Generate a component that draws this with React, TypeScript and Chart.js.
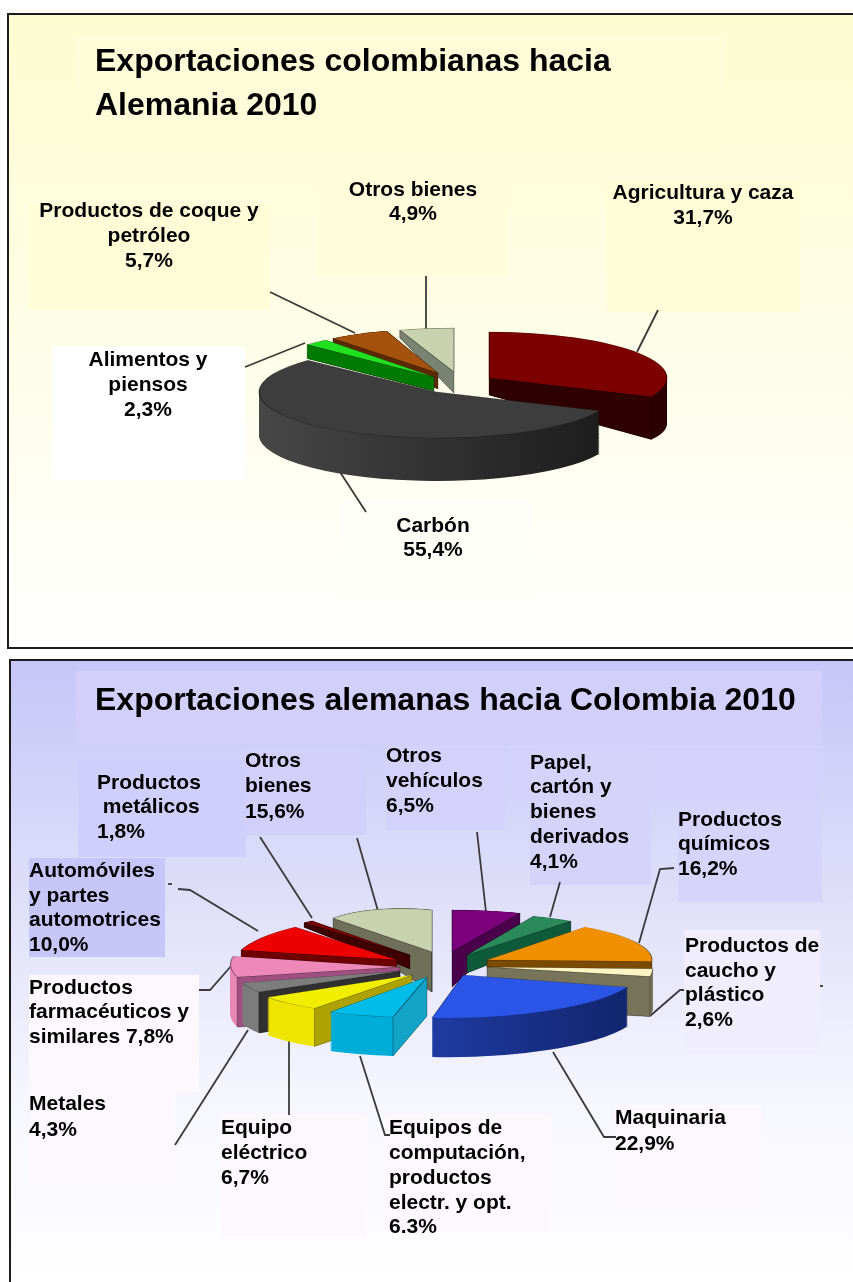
import React, { useEffect, useRef } from "react";
import { Chart, registerables } from "chart.js";
Chart.register(...registerables);

// ---------- data ----------
const topCategories = ["Agricultura y caza", "Carbón", "Alimentos y piensos", "Productos de coque y petróleo", "Otros bienes"];
const topValues = [31.7, 55.4, 2.3, 5.7, 4.9];
const topTitleLines = ["Exportaciones colombianas hacia", "Alemania 2010"];
const bottomCategories = ["Otros vehículos", "Papel, cartón y bienes derivados", "Productos químicos", "Productos de caucho y plástico", "Maquinaria", "Equipos de computación, productos electr. y opt.", "Equipo eléctrico", "Metales", "Productos farmacéuticos y similares", "Automóviles y partes automotrices", "Productos metálicos", "Otros bienes"];
const bottomValues = [6.5, 4.1, 16.2, 2.6, 22.9, 6.3, 6.7, 4.3, 7.8, 10.0, 1.8, 15.6];
const bottomTitleLines = ["Exportaciones alemanas hacia Colombia 2010"];

// ---------- styles: how each slice is exploded / tilted / extruded ----------
type Pose = { ax: number; ay: number; a: number; k: number; s: number; b: number; d0: number; ds: number; dy: number; top: string; wall: string; rim: [string, string] };
const p = (ax: number, ay: number, a: number, k: number, s: number, b: number, d0: number, ds: number, dy: number, top: string, wall: string, rimL: string, rimR: string): Pose => ({ ax, ay, a, k, s, b, d0, ds, dy, top, wall, rim: [rimL, rimR] });

const topPoses: Pose[] = [
  p(489, 378, 178, 0, 0, 46, 17, 0.158, 0, "#7c0000", "#2e0000", "#3a0000", "#2a0000"),
  p(437, 392, 178, 0, 0, 46, 43, 0, 0, "#3d3d3d", "#222222", "#474747", "#1b1b1b"),
  p(434, 377, 175, 0, 0, 47, 14, 0, 0, "#20e020", "#007a00", "#006a00", "#006a00"),
  p(438, 373, 170, 0, 0, 44, 16, 0, 0.34, "#a5520f", "#5a2a05", "#5a2a05", "#5a2a05"),
  p(454, 372, 179, 0, 0, 44, 21, 0, 0.32, "#c8d2ae", "#7a8272", "#7a8272", "#7a8272"),
];
const bottomPoses: Pose[] = [
  p(452, 952, 179, 0, 0, 42, 35, 0, 0.6, "#7c007c", "#4a004a", "#4a004a", "#4a004a"),
  p(467, 955, 175, 0, 0, 42, 18, 0, 0.2, "#2a8a5a", "#0f5a3a", "#0f5a3a", "#0f5a3a"),
  p(487, 960, 165, 0, 0, 41, 8, 0, 0, "#f09000", "#7a4a00", "#7a4a00", "#7a4a00"),
  p(487, 967, 166, 0, 0, 50, 40, 0, 0, "#fdf6c4", "#77745a", "#77745a", "#77745a"),
  p(463, 975, 174, -32, 4, 43, 39, 0, 0, "#2b55e6", "#13256e", "#2a52d8", "#13256e"),
  p(427, 977, 177, -35, 6, 40, 39, 0, 0, "#00bce8", "#12a3c6", "#00acd8", "#00acd8"),
  p(412, 975, 166, -40, 8, 39, 38, 0, 0, "#f2ee00", "#aea200", "#eee600", "#eee600"),
  p(400, 971, 159, -42, 9, 38, 41, 0, 0, "#7d7d7d", "#303030", "#7c7c7c", "#7c7c7c"),
  p(400, 967, 164, -43, 14, 43, 50, 0, 0, "#ee88b8", "#a05080", "#e787b6", "#e787b6"),
  p(397, 960, 152, -59, 13, 43, 7, 0, 0, "#ee0000", "#6e0000", "#6e0000", "#6e0000"),
  p(410, 955, 126, -6, 18, 33, 14, 0, 0.3, "#7a0000", "#3f0000", "#3f0000", "#3f0000"),
  p(432, 952, 123, 0, 11, 42, 40, 0, 0.85, "#c8d2ae", "#6e705a", "#6e705a", "#6e705a"),
];

type Patch = [number, number, number, number, string];
const topPatches: Patch[] = [
  [75, 35, 651, 118, "#fdfbd8"],
  [28, 205, 242, 105, "#fffcd8"],
  [318, 170, 190, 106, "#fffcdc"],
  [607, 180, 193, 132, "#fffcd8"],
  [52, 347, 193, 133, "#ffffff"],
  [340, 500, 190, 100, "#fffffa"],
];
const bottomPatches: Patch[] = [
  [76, 671, 746, 72, "#d2d0fb"],
  [78, 760, 168, 97, "#d0cefa"],
  [245, 748, 121, 87, "#d2d0fb"],
  [386, 745, 119, 85, "#d4d2fb"],
  [507, 745, 315, 55, "#d4d2fb"],
  [530, 750, 121, 135, "#d6d3fb"],
  [678, 800, 144, 102, "#d6d4fb"],
  [29, 858, 136, 99, "#c8c6f9"],
  [684, 930, 136, 124, "#f0eefc"],
  [29, 975, 170, 117, "#fdf8fe"],
  [29, 1092, 146, 89, "#fdf8fe"],
  [221, 1115, 146, 121, "#fdf8fe"],
  [385, 1115, 166, 117, "#fdf8fe"],
  [615, 1105, 146, 100, "#fdf8fe"],
];

type Leader = number[];
const topLeaders: Leader[] = [
  [637, 352, 658, 310], [426, 330, 426, 276], [355, 333, 270, 292], [305, 343, 245, 367], [340, 472, 366, 512],
];
const bottomLeaders: Leader[] = [
  [486, 912, 477, 832], [550, 917, 560, 882], [639, 943, 660, 869, 674, 868], [650, 1016, 680, 990, 684, 990],
  [553, 1052, 604, 1137, 616, 1137], [360, 1056, 385, 1135, 390, 1135], [289, 1040, 289, 1115],
  [248, 1030, 175, 1145], [232, 965, 210, 990, 199, 990], [258, 931, 190, 890, 178, 889], [168, 884, 172, 884],
  [312, 918, 260, 837], [378, 911, 357, 838], [820, 986, 823, 986],
];

type Lab = { x: number; lines: [string, number][]; align?: CanvasTextAlign };
const topLabels: Lab[] = [
  { x: 413, align: "center", lines: [["Otros bienes", 190], ["4,9%", 214]] },
  { x: 703, align: "center", lines: [["Agricultura y caza", 193], ["31,7%", 218]] },
  { x: 149, align: "center", lines: [["Productos de coque y", 211], ["petróleo", 236], ["5,7%", 261]] },
  { x: 148, align: "center", lines: [["Alimentos y", 360], ["piensos", 385], ["2,3%", 410]] },
  { x: 433, align: "center", lines: [["Carbón", 526], ["55,4%", 550]] },
];
const bottomLabels: Lab[] = [
  { x: 97, lines: [["Productos", 783], [" metálicos", 807], ["1,8%", 832]] },
  { x: 245, lines: [["Otros", 761], ["bienes", 786], ["15,6%", 812]] },
  { x: 386, lines: [["Otros", 756], ["vehículos", 781], ["6,5%", 806]] },
  { x: 530, lines: [["Papel,", 763], ["cartón y", 787], ["bienes", 812], ["derivados", 837], ["4,1%", 862]] },
  { x: 678, lines: [["Productos", 820], ["químicos", 844], ["16,2%", 869]] },
  { x: 685, lines: [["Productos de", 946], ["caucho y", 971], ["plástico", 995], ["2,6%", 1020]] },
  { x: 29, lines: [["Automóviles", 871], ["y partes", 896], ["automotrices", 920], ["10,0%", 945]] },
  { x: 29, lines: [["Productos", 988], ["farmacéuticos y", 1012], ["similares 7,8%", 1037]] },
  { x: 29, lines: [["Metales", 1104], ["4,3%", 1130]] },
  { x: 221, lines: [["Equipo", 1128], ["eléctrico", 1153], ["6,7%", 1178]] },
  { x: 389, lines: [["Equipos de", 1128], ["computación,", 1153], ["productos", 1178], ["electr. y opt.", 1203], ["6.3%", 1227]] },
  { x: 615, lines: [["Maquinaria", 1118], ["22,9%", 1144]] },
];

const FONT = '"Liberation Sans", Arial, sans-serif';
const R = 100;

type PanelCfg = {
  canvasTop: number; canvasH: number;
  bgStops: [number, string][];
  bgY: [number, number];
  rect: [number, number, number, number];
  closedBottom: boolean;
  patches: Patch[]; leaders: Leader[]; labels: Lab[];
  titleLines: string[]; titleX: number; titleY: number[]; titleSize: number;
  poses: Pose[];
};

function makePlugin(cfg: PanelCfg) {
  return {
    id: "panel3d",
    beforeDraw(chart: any) {
      const ctx: CanvasRenderingContext2D = chart.ctx;
      ctx.save();
      ctx.translate(0, -cfg.canvasTop);
      const [x, y, w, h] = cfg.rect;
      const g = ctx.createLinearGradient(0, cfg.bgY[0], 0, cfg.bgY[1]);
      cfg.bgStops.forEach(([o, c]) => g.addColorStop(o, c));
      ctx.fillStyle = g;
      ctx.fillRect(x, y, w, h);
      cfg.patches.forEach(([px, py, pw, ph, c]) => {
        ctx.fillStyle = c;
        ctx.fillRect(px, py, pw, ph);
      });
      ctx.strokeStyle = "#1c1c1c";
      ctx.lineWidth = 2;
      ctx.beginPath();
      ctx.moveTo(x + w, y);
      ctx.lineTo(x, y);
      ctx.lineTo(x, y + h);
      if (cfg.closedBottom) ctx.lineTo(x + w, y + h);
      ctx.stroke();
      ctx.strokeStyle = "#3a3a3a";
      ctx.lineWidth = 1.8;
      cfg.leaders.forEach((l) => {
        ctx.beginPath();
        ctx.moveTo(l[0], l[1]);
        for (let i = 2; i < l.length; i += 2) ctx.lineTo(l[i], l[i + 1]);
        ctx.stroke();
      });
      ctx.restore();
    },
    beforeDatasetsDraw(chart: any) {
      const ctx: CanvasRenderingContext2D = chart.ctx;
      const arcs = chart.getDatasetMeta(0).data as any[];
      const order = arcs.map((_, i) => i).sort((i, j) => {
        const mi = (arcs[i].startAngle + arcs[i].endAngle) / 2;
        const mj = (arcs[j].startAngle + arcs[j].endAngle) / 2;
        return Math.sin(mi) - Math.sin(mj);
      });
      ctx.save();
      ctx.translate(0, -cfg.canvasTop);
      order.forEach((i) => {
        const arc = arcs[i];
        const q = cfg.poses[i];
        const base = arc.options;
        const rx = arc.x;
        const ry = arc.y;
        const apply = (t: number) => {
          ctx.translate(q.ax, q.ay + t * q.d0);
          ctx.transform(
            q.a / R,
            (q.s + t * q.ds * q.a + t * q.dy * q.s) / R,
            q.k / R,
            (q.b + t * q.ds * q.k + t * q.dy * q.b) / R,
            0, 0,
          );
          ctx.translate(-rx, -ry);
        };
        const pt = (th: number, t: number): [number, number] => {
          const c = Math.cos(th);
          const s = Math.sin(th);
          const X = q.a * c + q.k * s;
          const Y = q.s * c + q.b * s;
          return [q.ax + X, q.ay + Y + t * (q.d0 + q.ds * X + q.dy * Y)];
        };
        // rim, as a stack of copies of the library's own arc
        const grad = ctx.createLinearGradient(rx - R, 0, rx + R, 0);
        grad.addColorStop(0, q.rim[0]);
        grad.addColorStop(1, q.rim[1]);
        arc.options = { ...base, backgroundColor: grad, borderWidth: 0 };
        const n = Math.ceil(Math.max(q.d0 + Math.abs(q.ds) * q.a + Math.abs(q.dy) * q.b, 1) * 1.5);
        for (let l = n; l >= 1; l--) {
          ctx.save();
          apply(l / n);
          arc.draw(ctx);
          ctx.restore();
        }
        // radial walls that face the viewer
        const mid = (arc.startAngle + arc.endAngle) / 2;
        const mp = pt(mid, 0);
        [arc.startAngle, arc.endAngle].forEach((th: number) => {
          const e = pt(th, 0);
          const ex = e[0] - q.ax;
          const ey = e[1] - q.ay;
          const crossM = ex * (mp[1] - q.ay) - ey * (mp[0] - q.ax);
          if (crossM * ex >= 0) return;
          const e1 = pt(th, 1);
          ctx.beginPath();
          ctx.moveTo(q.ax, q.ay);
          ctx.lineTo(e[0], e[1]);
          ctx.lineTo(e1[0], e1[1]);
          ctx.lineTo(q.ax, q.ay + q.d0);
          ctx.closePath();
          ctx.fillStyle = q.wall;
          ctx.fill();
          ctx.strokeStyle = "rgba(0,0,0,0.4)";
          ctx.lineWidth = 0.7;
          ctx.stroke();
        });
        // top face
        arc.options = { ...base, backgroundColor: q.top, borderColor: "rgba(0,0,0,0.4)", borderWidth: 0.7 };
        ctx.save();
        apply(0);
        arc.draw(ctx);
        ctx.restore();
        arc.options = base;
      });
      ctx.restore();
      return false;
    },
    afterDraw(chart: any) {
      const ctx: CanvasRenderingContext2D = chart.ctx;
      ctx.save();
      ctx.translate(0, -cfg.canvasTop);
      ctx.fillStyle = "#000";
      ctx.textBaseline = "middle";
      ctx.textAlign = "left";
      ctx.font = `bold ${cfg.titleSize}px ${FONT}`;
      cfg.titleLines.forEach((t, i) => ctx.fillText(t, cfg.titleX, cfg.titleY[i]));
      ctx.font = `bold 21px ${FONT}`;
      cfg.labels.forEach((lab) => {
        ctx.textAlign = lab.align || "left";
        lab.lines.forEach(([t, y]) => ctx.fillText(t, lab.x, y));
      });
      ctx.restore();
    },
  };
}

function PieCanvas({ cfg, categories, values }: { cfg: PanelCfg; categories: string[]; values: number[] }) {
  const ref = useRef<HTMLCanvasElement>(null);
  useEffect(() => {
    const chart = new Chart(ref.current as HTMLCanvasElement, {
      type: "pie",
      data: {
        labels: categories,
        datasets: [{ data: values, backgroundColor: cfg.poses.map((q) => q.top), borderWidth: 0 }],
      },
      options: {
        animation: false,
        responsive: false,
        radius: R,
        rotation: 0,
        layout: { padding: 0 },
        plugins: { legend: { display: false }, tooltip: { enabled: false }, title: { display: false } },
      } as any,
      plugins: [makePlugin(cfg)],
    } as any);
    return () => chart.destroy();
  }, []);
  return (
    <canvas
      ref={ref}
      width={853}
      height={cfg.canvasH}
      style={{ position: "absolute", left: 0, top: cfg.canvasTop, width: 853, height: cfg.canvasH, display: "block" }}
    />
  );
}

const topCfg: PanelCfg = {
  canvasTop: 0, canvasH: 654,
  bgStops: [[0, "#fdfbd0"], [0.45, "#fefde4"], [0.8, "#fffff6"], [1, "#ffffff"]],
  bgY: [14, 648],
  rect: [8, 14, 860, 634],
  closedBottom: true,
  patches: topPatches, leaders: topLeaders, labels: topLabels,
  titleLines: topTitleLines, titleX: 95, titleY: [62, 106], titleSize: 32,
  poses: topPoses,
};
const bottomCfg: PanelCfg = {
  canvasTop: 654, canvasH: 628,
  bgStops: [[0, "#c6c6f8"], [0.4, "#e0e0fa"], [0.7, "#f6f6fe"], [1, "#ffffff"]],
  bgY: [660, 1282],
  rect: [10, 660, 860, 640],
  closedBottom: false,
  patches: bottomPatches, leaders: bottomLeaders, labels: bottomLabels,
  titleLines: bottomTitleLines, titleX: 95, titleY: [701], titleSize: 32,
  poses: bottomPoses,
};

export default function App() {
  return (
    <div style={{ position: "absolute", left: 0, top: 0, width: 853, height: 1282, overflow: "hidden", background: "#fff" }}>
      <PieCanvas cfg={topCfg} categories={topCategories} values={topValues} />
      <PieCanvas cfg={bottomCfg} categories={bottomCategories} values={bottomValues} />
    </div>
  );
}
